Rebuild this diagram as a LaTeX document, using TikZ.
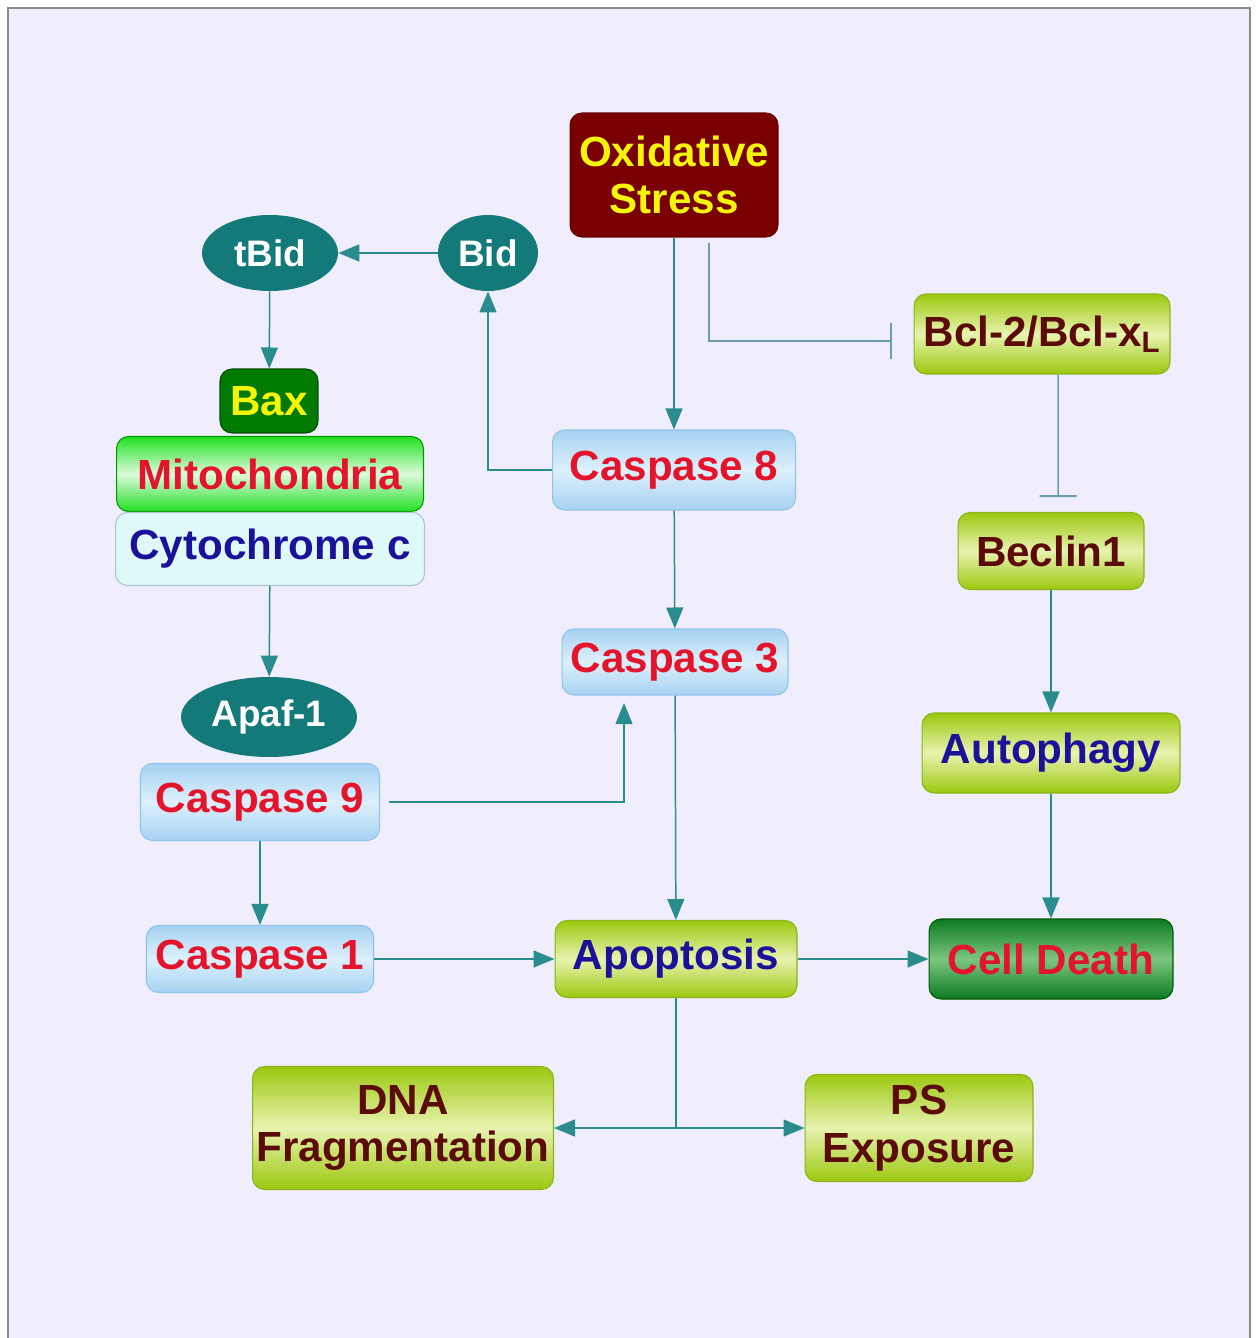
\documentclass[tikz,border=0pt]{standalone}
\usepackage{fontspec}
\setmainfont{Liberation Sans}
\usetikzlibrary{arrows.meta,shapes.geometric}
\definecolor{bg}{HTML}{F0EEFC}
\definecolor{frame}{HTML}{8A8A8A}
\definecolor{txtred}{HTML}{E3142B}
\definecolor{txtblue}{HTML}{1C1299}
\definecolor{txtmaroon}{HTML}{5C0B0B}
\definecolor{txtyellow}{HTML}{F5F50A}
\definecolor{teal}{HTML}{137A79}
\definecolor{link}{HTML}{2A8C8C}
\definecolor{inhib}{HTML}{6E9CAC}
\definecolor{blueedge}{HTML}{A6D2F2}
\definecolor{bluemid}{HTML}{DDF0FB}
\definecolor{blueline}{HTML}{8FC4EA}
\definecolor{limeedge}{HTML}{9CC80E}
\definecolor{limemid}{HTML}{E8F3B0}
\definecolor{limeline}{HTML}{8AB41A}
\definecolor{mitoedge}{HTML}{22E022}
\definecolor{mitomid}{HTML}{DDFBDD}
\definecolor{deathedge}{HTML}{0B7A22}
\definecolor{deathmid}{HTML}{7CC67F}
\definecolor{cytfill}{HTML}{DFF8F8}
\begin{document}
\begin{tikzpicture}[x=0.02cm, y=-0.02cm,
  box/.style={rectangle, rounded corners=0.24cm, inner sep=0pt, align=center, line width=0.6pt,
    font=\bfseries\fontsize{24}{27}\selectfont},
  bluebox/.style={box, draw=blueline, top color=blueedge, bottom color=blueedge,
    middle color=bluemid, text=txtred},
  limebox/.style={box, draw=limeline, top color=limeedge, bottom color=limeedge,
    middle color=limemid, text=txtmaroon},
  oval/.style={ellipse, fill=teal, inner sep=0pt, text=white, font=\bfseries\fontsize{21}{25}\selectfont},
  arr/.style={draw=link, line width=0.85pt, -{Triangle[length=4.2mm, width=3.4mm]}, color=link},
  inh/.style={draw=inhib, line width=0.85pt, -{Bar[width=7.4mm, line width=1.1pt]}}]
\useasboundingbox (0,0) rectangle (1258,1338);
\fill[white] (0,0) rectangle (1258,1338);
\fill[bg] (8,8) rectangle (1250,1338);
\draw[frame, line width=0.9pt] (8,1338) -- (8,8) -- (1250,8) -- (1250,1338);
\node[box, draw=red!40!black, fill=red!48!black, text=txtyellow, minimum width=4.16cm, minimum height=2.48cm] (ox) at (674,175) {Oxidative\\Stress};
\node[oval, minimum width=2.72cm, minimum height=1.52cm] (tbid) at (270,253) {tBid};
\node[oval, minimum width=2.0cm, minimum height=1.52cm] (bid) at (488,253) {Bid};
\node[box, draw=green!30!black, fill=green!48!black, text=txtyellow, minimum width=1.96cm, minimum height=1.28cm] (bax) at (269,401) {Bax};
\node[box, draw=green!60!black, top color=mitoedge, bottom color=mitoedge, middle color=mitomid, text=txtred, minimum width=6.14cm, minimum height=1.5cm] (mito) at (270,474) {Mitochondria};
\node[box, draw=cyan!30!gray!60, fill=cytfill, text=txtblue, minimum width=6.18cm, minimum height=1.46cm] (cytc) at (270,549) {Cytochrome c};
\node[oval, minimum width=3.52cm, minimum height=1.6cm] (apaf) at (269,717) {Apaf-1};
\node[bluebox, minimum width=4.78cm, minimum height=1.54cm] (casp9) at (260,802) {Caspase 9};
\node[bluebox, minimum width=4.54cm, minimum height=1.34cm] (casp1) at (260,959) {Caspase 1};
\node[bluebox, minimum width=4.86cm, minimum height=1.6cm] (casp8) at (674,470) {Caspase 8};
\node[bluebox, minimum width=4.52cm, minimum height=1.32cm] (casp3) at (675,662) {Caspase 3};
\node[limebox, text=txtblue, minimum width=4.84cm, minimum height=1.54cm] (apop) at (676,959) {Apoptosis};
\node[box, draw=green!35!black, top color=deathedge, bottom color=deathedge, middle color=deathmid, text=txtred, minimum width=4.88cm, minimum height=1.6cm] (death) at (1051,959) {Cell Death};
\node[limebox, minimum width=5.12cm, minimum height=1.6cm] (bcl) at (1042,334) {Bcl-2/Bcl-x\textsubscript{L}};
\node[limebox, minimum width=3.72cm, minimum height=1.54cm] (beclin) at (1051,551) {Beclin1};
\node[limebox, text=txtblue, minimum width=5.16cm, minimum height=1.6cm] (auto) at (1051,753) {Autophagy};
\node[limebox, minimum width=6.02cm, minimum height=2.46cm] (dna) at (403,1128) {DNA\\Fragmentation};
\node[limebox, minimum width=4.56cm, minimum height=2.14cm] (ps) at (919,1128) {PS\\Exposure};
\coordinate (bclbar) at (892,341);
\coordinate (beclinbar) at (1058,497);
\coordinate (casp3in) at (624,703);
\coordinate (split) at (676,1128);
\draw[arr] (bid) -- (tbid);
\draw[arr] (tbid) -- (bax);
\draw[arr] (casp8.west) -| (bid.south);
\draw[arr] (ox) -- (casp8);
\draw[inh, shorten <=0.1cm] ([xshift=0.7cm]ox.south) |- (bclbar);
\draw[inh] ([xshift=0.32cm]bcl.south) -- (beclinbar);
\draw[arr] (cytc) -- (apaf);
\draw[arr, shorten <=0.18cm] (casp9.east) -| (casp3in);
\draw[arr] (casp9) -- (casp1);
\draw[arr] (casp8) -- (casp3);
\draw[arr] (casp3) -- (apop);
\draw[arr] (casp1) -- (apop);
\draw[arr] (apop) -- (death);
\draw[arr] (beclin) -- (auto);
\draw[arr] (auto) -- (death);
\draw[link, line width=0.85pt] (apop) -- (split);
\draw[arr] (split) -- (dna);
\draw[arr] (split) -- (ps);
\end{tikzpicture}
\end{document}
